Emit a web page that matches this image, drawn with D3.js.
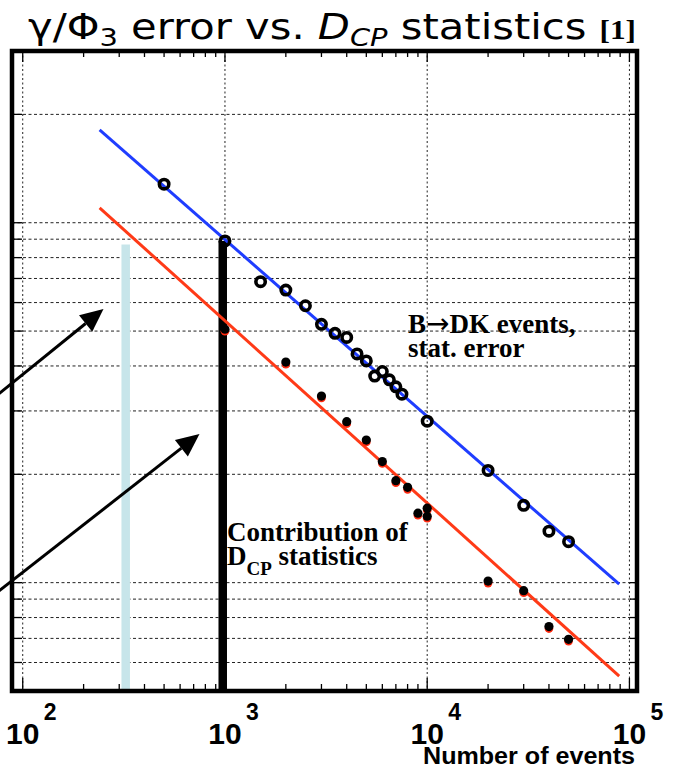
<!DOCTYPE html>
<html>
<head>
<meta charset="utf-8">
<script src="https://cdn.jsdelivr.net/npm/d3@7"></script>
<style>
  html, body { margin: 0; padding: 0; background: #fff; }
  svg { display: block; }
</style>
</head>
<body>
<script>
// γ/Φ3 error versus number of events, B→DK statistical error and D_CP contribution

// B→DK events, statistical error (open circles)
const statN   = [500, 1000, 1500, 2000, 2500, 3000, 3500, 4000, 4500, 5000,
                 5500, 6000, 6500, 7000, 7500, 10000, 20000, 30000, 40000, 50000];
const statErr = [12.8, 8.9, 6.86, 6.5, 5.88, 5.22, 4.93, 4.80, 4.32, 4.13,
                 3.75, 3.86, 3.66, 3.50, 3.34, 2.81, 2.05, 1.64, 1.39, 1.30];

// Contribution of D_CP statistics (filled dots)
const dcpN   = [1000, 2000, 3000, 4000, 5000, 6000, 7000, 8000, 9000, 10000, 10000,
                20000, 30000, 40000, 50000];
const dcpErr = [5.06, 4.10, 3.30, 2.80, 2.49, 2.17, 1.92, 1.84, 1.56, 1.61, 1.53,
                1.01, 0.95, 0.755, 0.696];

// 1/sqrt(N) fit lines (end points)
const fitN    = [240, 89000];
const statFit = [18.1, 0.99];
const dcpFit  = [11.0, 0.55];

// marked sample sizes (vertical bars): light blue, black
const markN   = [323, 975];
const markTop = [8.7, 8.9];

// axes
const xDecades  = [100, 1000, 10000, 100000];
const xExponent = ["2", "3", "4", "5"];
const yGrid     = [0.6, 0.7, 0.8, 0.9, 1, 2, 3, 4, 5, 6, 7, 8, 9, 10, 20];

const W = 674, H = 768;
const svg = d3.select("body").append("svg").attr("width", W).attr("height", H);

const x = d3.scaleLog().domain([88.5, 109000]).range([12, 637]);
const y = d3.scaleLog().domain([0.5, 30]).range([691, 51]);
const [x0, x1] = x.range();
const [y0, y1] = [y.range()[1], y.range()[0]];

// minor x ticks 1..9 per decade
const xMinor = [];
for (let e = 2; e <= 4; e++) for (let k = 1; k <= 9; k++) xMinor.push(k * Math.pow(10, e));
xMinor.push(100000);

// ---- grid ----
const grid = svg.append("g");
grid.selectAll("line.h").data(yGrid).join("line")
  .attr("x1", x0).attr("x2", x1)
  .attr("y1", d => y(d)).attr("y2", d => y(d))
  .attr("stroke", "#222").attr("stroke-width", 1)
  .attr("stroke-dasharray", "3,2.5");
grid.selectAll("line.v").data(xDecades).join("line")
  .attr("x1", d => x(d)).attr("x2", d => x(d))
  .attr("y1", y0).attr("y2", y1)
  .attr("stroke", "#222").attr("stroke-width", 1)
  .attr("stroke-dasharray", "2,2.5");

// ---- marker bars ----
const barColors = ["#c7e5ea", "#000"];
const barWidths = [8.5, 8.5];
svg.append("g").selectAll("rect").data(markN).join("rect")
  .attr("x", (d, i) => x(d) - barWidths[i] / 2)
  .attr("width", (d, i) => barWidths[i])
  .attr("y", (d, i) => y(markTop[i]))
  .attr("height", (d, i) => y1 - y(markTop[i]))
  .attr("fill", (d, i) => barColors[i]);

// ---- fit lines ----
const line = d3.line().x(d => x(d[0])).y(d => y(d[1]));
svg.append("path").datum(d3.zip(fitN, dcpFit)).attr("d", line)
  .attr("fill", "none").attr("stroke", "#ff3a17").attr("stroke-width", 3);
svg.append("path").datum(d3.zip(fitN, statFit)).attr("d", line)
  .attr("fill", "none").attr("stroke", "#1f3dff").attr("stroke-width", 3);

// ---- filled dots (red shadow under black dot) ----
const dots = svg.append("g");
const dcpPts = d3.zip(dcpN, dcpErr);
dots.selectAll("circle.r").data(dcpPts).join("circle")
  .attr("cx", d => x(d[0])).attr("cy", d => y(d[1]))
  .attr("transform", "translate(0,2)")
  .attr("r", 4.3).attr("fill", "#ff2a10");
dots.selectAll("circle.k").data(dcpPts).join("circle")
  .attr("cx", d => x(d[0])).attr("cy", d => y(d[1]))
  .attr("r", 4.6).attr("fill", "#000");

// ---- open circles ----
svg.append("g").selectAll("circle").data(d3.zip(statN, statErr)).join("circle")
  .attr("cx", d => x(d[0])).attr("cy", d => y(d[1]))
  .attr("r", 4.7).attr("fill", "none")
  .attr("stroke", "#000").attr("stroke-width", 3.6);

// ---- frame and ticks ----
const ticks = svg.append("g").attr("stroke", "#000").attr("stroke-width", 1.3);
const isDecade = d => Math.abs(Math.log10(d) - Math.round(Math.log10(d))) < 1e-9;
ticks.selectAll("line.b").data(xMinor).join("line")
  .attr("x1", d => x(d)).attr("x2", d => x(d))
  .attr("y1", y1).attr("y2", d => y1 - (isDecade(d) ? 13 : 7));
ticks.selectAll("line.t").data(xMinor).join("line")
  .attr("x1", d => x(d)).attr("x2", d => x(d))
  .attr("y1", y0).attr("y2", d => y0 + (isDecade(d) ? 11 : 6));
ticks.selectAll("line.l").data(yGrid).join("line")
  .attr("x1", x0).attr("x2", x0 + 10)
  .attr("y1", d => y(d)).attr("y2", d => y(d));
ticks.selectAll("line.r").data(yGrid).join("line")
  .attr("x1", x1).attr("x2", x1 - 7)
  .attr("y1", d => y(d)).attr("y2", d => y(d));

svg.append("rect")
  .attr("x", x0).attr("y", y0).attr("width", x1 - x0).attr("height", y1 - y0)
  .attr("fill", "none").attr("stroke", "#000").attr("stroke-width", 4.5);

// ---- x tick labels: 10^n ----
const lab = svg.append("g").attr("font-family", "'Liberation Sans', Arial, sans-serif")
  .attr("font-weight", "bold").attr("fill", "#000");
lab.selectAll("text.m").data(xDecades).join("text")
  .attr("x", d => x(d)).attr("y", 744)
  .attr("text-anchor", "middle").attr("font-size", 30).text("10");
lab.selectAll("text.e").data(xDecades).join("text")
  .attr("x", d => x(d) + 21).attr("y", 720)
  .attr("font-size", 23).text((d, i) => xExponent[i]);
lab.append("text").attr("x", 423).attr("y", 764)
  .attr("font-size", 23.5).attr("textLength", 212).attr("lengthAdjust", "spacingAndGlyphs")
  .text("Number of events");

// ---- annotations ----
const serif = "'Liberation Serif', 'Times New Roman', serif";
const ann = svg.append("g").attr("font-family", serif).attr("font-weight", "bold")
  .attr("fill", "#000").attr("font-size", 27);
const bdk = ann.append("text").attr("x", 408).attr("y", 333);
bdk.append("tspan").text("B");
bdk.append("tspan").attr("font-family", "'DejaVu Sans', sans-serif")
  .attr("font-weight", "normal").attr("font-size", 28).text("\u2192");
bdk.append("tspan").text("DK events,");
ann.append("text").attr("x", 408).attr("y", 357).text("stat. error");
ann.append("text").attr("x", 227).attr("y", 541).text("Contribution of");
const dcp = ann.append("text").attr("x", 227).attr("y", 565);
dcp.append("tspan").text("D");
dcp.append("tspan").attr("font-size", 19).attr("dy", 10).text("CP");
dcp.append("tspan").attr("dy", -10).text(" statistics");

// ---- arrows ----
const arrows = [
  { from: [-10, 401], to: [103.5, 309] },
  { from: [-10, 598], to: [199.5, 434] }
];
const ag = svg.append("g");
arrows.forEach(a => {
  const [fx, fy] = a.from, [tx, ty] = a.to;
  const ang = Math.atan2(ty - fy, tx - fx);
  const L = 23, hw = 10.5;
  const bx = tx - L * Math.cos(ang), by = ty - L * Math.sin(ang);
  ag.append("line").attr("x1", fx).attr("y1", fy).attr("x2", bx).attr("y2", by)
    .attr("stroke", "#000").attr("stroke-width", 3);
  const px = -Math.sin(ang), py = Math.cos(ang);
  ag.append("path")
    .attr("d", `M${tx},${ty}L${bx + hw * px},${by + hw * py}L${bx - hw * px},${by - hw * py}Z`)
    .attr("fill", "#000");
});

// ---- title ----
const title = svg.append("text").attr("x", 28).attr("y", 39)
  .attr("font-family", "'DejaVu Sans', sans-serif").attr("font-size", 36).attr("fill", "#000");
title.append("tspan").text("\u03B3/\u03A6");
title.append("tspan").attr("font-size", 25).attr("dy", 7).text("3");
title.append("tspan").attr("dy", -7).text(" error vs. ");
title.append("tspan").attr("font-style", "italic").text("D");
title.append("tspan").attr("font-style", "italic").attr("font-size", 25).attr("dy", 7).text("CP");
title.append("tspan").attr("dy", -7).text(" statistics ");
title.append("tspan").attr("font-family", serif).attr("font-weight", "bold")
  .attr("font-size", 27).text("[1]");
// fit title to its line width
const tw = title.node().getComputedTextLength();
if (tw > 0) title.attr("textLength", 608).attr("lengthAdjust", "spacingAndGlyphs");
</script>
</body>
</html>
